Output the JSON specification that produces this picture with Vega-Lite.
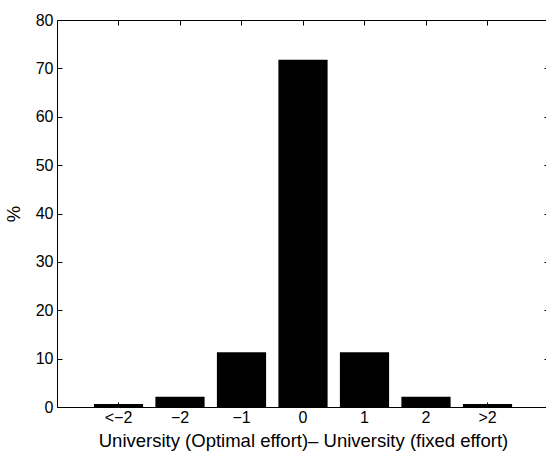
{
  "$schema": "https://vega.github.io/schema/vega-lite/v6.json",
  "width": 492,
  "height": 387,
  "autosize": "none",
  "padding": {"left": 57, "top": 20, "right": 0, "bottom": 45},
  "background": "white",
  "config": {
    "font": "Liberation Sans",
    "view": {"stroke": "black", "strokeWidth": 1},
    "axis": {
      "labelFont": "Liberation Sans",
      "titleFont": "Liberation Sans",
      "labelFontSize": 16,
      "titleFontSize": 18.5,
      "titleFontWeight": "normal",
      "labelColor": "black",
      "titleColor": "black",
      "tickColor": "black",
      "domain": false,
      "grid": false,
      "tickSize": -5,
      "labelPadding": 8
    }
  },
  "data": {
    "values": [
      {"cat": "<−2", "pct": 0.6},
      {"cat": "−2", "pct": 2.1},
      {"cat": "−1", "pct": 11.3},
      {"cat": "0", "pct": 71.8},
      {"cat": "1", "pct": 11.3},
      {"cat": "2", "pct": 2.1},
      {"cat": ">2", "pct": 0.6}
    ]
  },
  "layer": [
    {
      "mark": {"type": "bar", "color": "black"},
      "encoding": {
        "x": {
          "field": "cat", "type": "ordinal", "sort": null,
          "scale": {"paddingInner": 0.2, "paddingOuter": 0.6},
          "axis": {"title": "University (Optimal effort)– University (fixed effort)", "labelAngle": 0, "labelPadding": 7, "titleY": 39, "titleBaseline": "alphabetic"}
        },
        "y": {
          "field": "pct", "type": "quantitative",
          "scale": {"domain": [0, 80], "nice": false},
          "axis": {"title": "%", "values": [0,10,20,30,40,50,60,70,80], "labelPadding": 9, "titlePadding": 12}
        }
      }
    },
    {
      "mark": {"type": "bar", "opacity": 0},
      "encoding": {
        "x": {
          "field": "cat", "type": "ordinal", "sort": null,
          "scale": {"paddingInner": 0.2, "paddingOuter": 0.6},
          "axis": {"orient": "top", "labels": false, "title": null}
        },
        "y": {
          "field": "pct", "type": "quantitative",
          "scale": {"domain": [0, 80], "nice": false},
          "axis": {"orient": "right", "labels": false, "title": null, "values": [0,10,20,30,40,50,60,70,80]}
        }
      }
    }
  ],
  "resolve": {"scale": {"x": "independent", "y": "independent"}, "axis": {"x": "independent", "y": "independent"}}
}
